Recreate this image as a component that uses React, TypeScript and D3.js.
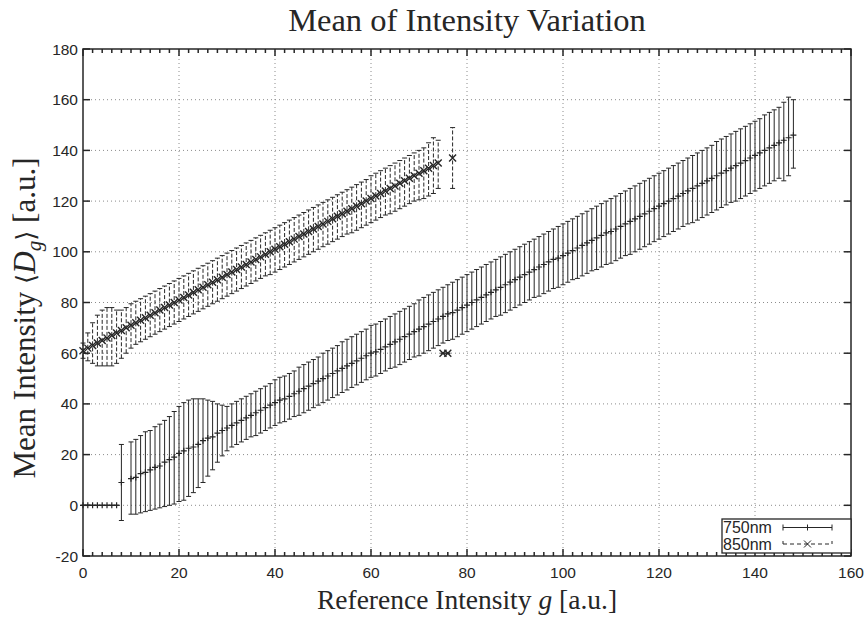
import React from 'react';
import * as d3 from 'd3';

// axis tick values
const xTickValues = [0, 20, 40, 60, 80, 100, 120, 140, 160];
const yTickValues = [-20, 0, 20, 40, 60, 80, 100, 120, 140, 160, 180];

// 750nm series (reference intensity g, mean, lower / upper error)
const g750 = [0, 1, 2, 3, 4, 5, 6, 7, 8,
  10, 11, 12, 13, 14, 15, 16, 17, 18, 19,
  20, 21, 22, 23, 24, 25, 26, 27, 28, 29,
  30, 31, 32, 33, 34, 35, 36, 37, 38, 39,
  40, 41, 42, 43, 44, 45, 46, 47, 48, 49,
  50, 51, 52, 53, 54, 55, 56, 57, 58, 59,
  60, 61, 62, 63, 64, 65, 66, 67, 68, 69,
  70, 71, 72, 73, 74, 75, 76, 77, 78, 79,
  80, 81, 82, 83, 84, 85, 86, 87, 88, 89,
  90, 91, 92, 93, 94, 95, 96, 97, 98, 99,
  100, 101, 102, 103, 104, 105, 106, 107, 108, 109,
  110, 111, 112, 113, 114, 115, 116, 117, 118, 119,
  120, 121, 122, 123, 124, 125, 126, 127, 128, 129,
  130, 131, 132, 133, 134, 135, 136, 137, 138, 139,
  140, 141, 142, 143, 144, 145, 146, 147, 148];

const mean750 = [0, 0, 0, 0, 0, 0, 0, 0, 9,
  10.5, 11, 12.5, 13, 14, 15, 15.5, 17, 18, 19,
  20.5, 21.5, 22.5, 23, 24, 25.5, 26.5, 27, 28.5, 29.5,
  30.5, 31.5, 32.5, 33.5, 34.5, 35.5, 36.5, 37.5, 38.5, 39.5,
  40.5, 41.5, 42, 43, 44, 45, 46, 47, 48, 49,
  50, 51, 52, 53, 54, 55, 56, 57, 58, 59,
  60, 60.5, 61.5, 62.5, 63.5, 64.5, 65.5, 66.5, 67.5, 68.5,
  69.5, 70.5, 71.5, 72.5, 73.5, 74.5, 75.5, 76, 77, 78,
  79, 80, 81, 82, 83, 84, 85, 86, 87, 88,
  89, 90, 91, 92, 93, 94, 95, 96, 97, 97.5,
  98.5, 99.5, 100.5, 101.5, 102.5, 103.5, 104.5, 105.5, 106.5, 107.5,
  108, 109, 110, 111, 112, 113, 114, 115, 116, 117,
  118, 119, 120, 121, 122, 123, 124, 125, 126, 127,
  128, 129, 130, 131, 132, 133, 134, 135, 136, 137,
  138, 139, 140, 141, 142, 143, 144, 145, 146];

const low750 = [0, 0, 0, 0, 0, 0, 0, 0, -6,
  -3.5, -3.5, -3, -2.5, -2, -1.5, -1, -0.5, 0, 0.5,
  1.5, 2, 3.5, 5, 7, 9, 11.5, 14, 17, 19.5,
  21.5, 23, 24, 25, 26, 27, 27.5, 28.5, 29.5, 30.5,
  31.5, 32.5, 33, 34, 35, 35.5, 36.5, 37.5, 38.5, 39.5,
  40.5, 41.5, 42.5, 43.5, 44.5, 45.5, 46.5, 47.5, 48.5, 49.5,
  50.5, 51, 52, 53, 54, 54.5, 55.5, 56.5, 57.5, 58.5,
  59, 60, 61, 62, 63, 64, 65, 65.5, 66.5, 67.5,
  68.5, 69.5, 70.5, 71.5, 72.5, 73.5, 74.5, 75, 76, 77,
  78, 79, 80, 81, 82, 82.5, 83.5, 84.5, 85.5, 86,
  87, 88, 89, 89.5, 90.5, 91.5, 92.5, 93, 94, 95,
  95.5, 96.5, 97.5, 98.5, 99, 100, 101, 102, 103, 104,
  105, 106, 107, 108, 109, 110, 111, 111.5, 112.5, 113.5,
  114.5, 115.5, 116.5, 117.5, 118.5, 119.5, 120, 121, 122, 123,
  124, 125, 126, 127, 128, 129, 128, 130, 133];

const high750 = [0, 0, 0, 0, 0, 0, 0, 0, 24,
  25, 26, 27.5, 29, 29.5, 31, 32, 33.5, 35, 37,
  39, 40.5, 41.5, 42, 42, 42, 41.5, 41, 40, 39.5,
  39, 40, 41, 42, 43, 44, 45, 46, 47, 48,
  49.5, 50.5, 51, 52, 53, 54.5, 55.5, 56.5, 57.5, 58.5,
  60, 61, 62, 63, 64.5, 65.5, 66.5, 67.5, 68.5, 69.5,
  71, 71.5, 72.5, 73.5, 74.5, 75.5, 76.5, 77.5, 78.5, 79.5,
  81, 82, 83, 84, 85, 86, 87, 88, 89, 90,
  91, 92, 93, 94, 95, 96, 97, 98, 99, 100,
  101, 102, 103, 104, 105, 106, 107, 108, 109, 110,
  111, 112, 113, 114, 115, 116, 117, 118, 119, 120,
  121, 122, 123, 124, 125, 126, 127, 128, 129, 130,
  131, 132, 133, 134, 135, 136, 137, 138, 139, 140,
  141, 142, 143.5, 144.5, 145.5, 146.5, 147.5, 148.5, 149.5, 150.5,
  151.5, 152.5, 154, 155, 156, 157, 159, 161, 160];

// 850nm series
const g850 = [0, 1, 2, 3, 4, 5, 6, 7, 8, 9,
  10, 11, 12, 13, 14, 15, 16, 17, 18, 19,
  20, 21, 22, 23, 24, 25, 26, 27, 28, 29,
  30, 31, 32, 33, 34, 35, 36, 37, 38, 39,
  40, 41, 42, 43, 44, 45, 46, 47, 48, 49,
  50, 51, 52, 53, 54, 55, 56, 57, 58, 59,
  60, 61, 62, 63, 64, 65, 66, 67, 68, 69,
  70, 71, 72, 73, 74, 75, 76, 77];

const mean850 = [61, 62, 63, 64, 65, 66, 67, 68, 69, 70,
  71, 72, 73, 74, 75, 76, 77, 78, 79, 80,
  81, 82, 83, 84, 85, 86, 87, 88, 89, 90,
  91, 92, 93, 94, 95, 96, 97, 98, 99, 100,
  101, 102, 103, 104, 105, 106, 107, 108, 109, 110,
  111, 112, 113, 114, 115, 116, 117, 118, 119, 120,
  121, 122, 123, 124, 125, 126, 127, 128, 129, 130,
  131, 132, 133, 134, 135, 60, 60, 137];

const low850 = [58, 57, 56, 55, 55, 55, 55, 56, 58, 60,
  62, 63.5, 64.5, 65.5, 66.5, 67.5, 68.5, 69.5, 70.5, 71.5,
  72.5, 73.5, 74.5, 75.5, 76.5, 77.5, 78.5, 79.5, 80.5, 81.5,
  82.5, 83.5, 84.5, 85.5, 86.5, 87.5, 88.5, 89.5, 90.5, 91,
  92, 93, 94, 95, 96, 97, 98, 99, 100, 101,
  102, 103, 104, 105, 106, 107, 107.5, 108.5, 109.5, 110.5,
  111.5, 112.5, 113.5, 114.5, 115, 116, 117, 118, 119, 120,
  120.5, 121, 122, 123, 125, 60, 60, 125];

const high850 = [64, 68, 72, 75, 77, 78, 78, 77, 77, 78,
  79.5, 80.5, 81.5, 82.5, 83.5, 84.5, 85.5, 86.5, 87.5, 88.5,
  89.5, 90.5, 91.5, 92.5, 93.5, 94.5, 95.5, 96.5, 97.5, 98.5,
  99.5, 100.5, 101.5, 102.5, 103.5, 104.5, 105.5, 106.5, 107.5, 108.5,
  109.5, 110.5, 111.5, 112.5, 113.5, 114.5, 115.5, 116.5, 117.5, 118.5,
  119.5, 120.5, 121.5, 122.5, 123.5, 124.5, 125.5, 126.5, 127.5, 128.5,
  130, 131, 132, 133, 134, 135, 136, 137, 138, 139,
  140, 141, 143, 145, 144, 60, 60, 149];

const legendLabels = ['750nm', '850nm'];

const W = 867;
const H = 620;
const ink = '#262626';
const gridColor = '#8c8c8c';
const sansFont = '"Liberation Sans", Arial, sans-serif';
const serifFont = '"Liberation Serif", "Times New Roman", serif';

const ErrorSeries = ({ x, y, gs, means, lows, highs, dashed, marker }) => {
  const cap = 2.5;
  const m = marker === 'plus' ? 3 : 3.5;
  return (
    <g stroke={ink} strokeWidth={1} fill="none">
      {gs.map((g, i) => {
        const cx = x(g);
        const yl = y(lows[i]);
        const yh = y(highs[i]);
        const ym = y(means[i]);
        return (
          <g key={i}>
            <line x1={cx} x2={cx} y1={yl} y2={yh} strokeDasharray={dashed ? '4,2' : undefined} />
            <line x1={cx - cap} x2={cx + cap} y1={yl} y2={yl} />
            <line x1={cx - cap} x2={cx + cap} y1={yh} y2={yh} />
            {marker === 'plus' ? (
              <path d={`M${cx - m},${ym}H${cx + m}M${cx},${ym - m}V${ym + m}`} strokeWidth={1.2} />
            ) : (
              <path d={`M${cx - m},${ym - m}L${cx + m},${ym + m}M${cx - m},${ym + m}L${cx + m},${ym - m}`} strokeWidth={1.4} />
            )}
          </g>
        );
      })}
    </g>
  );
};

export default function App() {
  const x = d3.scaleLinear().domain([0, 160]).range([83, 851]);
  const y = d3.scaleLinear().domain([-20, 180]).range([556, 49]);
  const [x0, x1] = x.range();
  const [y0, y1] = y.range();
  const minorX = d3.range(0, 161, 2).filter(v => v % 20 !== 0);
  const major = 7;
  const minor = 4;

  // legend geometry
  const lg = { x: 722, y: 519, w: 129, h: 34 };
  const sx0 = 783;
  const sx1 = 832;
  const sMid = (sx0 + sx1) / 2;
  const rowY = [527.5, 544];

  return (
    <svg width={W} height={H} style={{ position: 'absolute', left: 0, top: 0, background: '#fff' }}>
      <rect x={0} y={0} width={W} height={H} fill="#fff" />

      {/* title */}
      <text x={(x0 + x1) / 2} y={31} textAnchor="middle" fontFamily={serifFont} fontSize={32.5} fill={ink}>
        Mean of Intensity Variation
      </text>

      {/* grid */}
      <g stroke={gridColor} strokeWidth={1} strokeDasharray="1,3">
        {xTickValues.filter(v => v > 0 && v < 160).map(v => (
          <line key={'gx' + v} x1={x(v)} x2={x(v)} y1={y0} y2={y1} />
        ))}
        {yTickValues.filter(v => v > -20 && v < 180).map(v => (
          <line key={'gy' + v} x1={x0} x2={x1} y1={y(v)} y2={y(v)} />
        ))}
      </g>

      {/* series */}
      <ErrorSeries x={x} y={y} gs={g850} means={mean850} lows={low850} highs={high850} dashed marker="cross" />
      <ErrorSeries x={x} y={y} gs={g750} means={mean750} lows={low750} highs={high750} dashed={false} marker="plus" />

      {/* frame and ticks */}
      <g stroke={ink} strokeWidth={1.5} fill="none">
        <rect x={x0} y={y1} width={x1 - x0} height={y0 - y1} />
        {xTickValues.map(v => (
          <g key={'tx' + v}>
            <line x1={x(v)} x2={x(v)} y1={y0} y2={y0 - major} />
            <line x1={x(v)} x2={x(v)} y1={y1} y2={y1 + major} />
          </g>
        ))}
        {minorX.map(v => (
          <g key={'mx' + v}>
            <line x1={x(v)} x2={x(v)} y1={y0} y2={y0 - minor} />
            <line x1={x(v)} x2={x(v)} y1={y1} y2={y1 + minor} />
          </g>
        ))}
        {yTickValues.map(v => (
          <g key={'ty' + v}>
            <line x1={x0} x2={x0 + major} y1={y(v)} y2={y(v)} />
            <line x1={x1} x2={x1 - major} y1={y(v)} y2={y(v)} />
          </g>
        ))}
      </g>

      {/* tick labels */}
      <g fontFamily={sansFont} fontSize={15.5} fill={ink}>
        {xTickValues.map(v => (
          <text key={'lx' + v} x={x(v)} y={578} textAnchor="middle">{v}</text>
        ))}
        {yTickValues.map(v => (
          <text key={'ly' + v} x={78} y={y(v) + 5.5} textAnchor="end">{v}</text>
        ))}
      </g>

      {/* axis labels */}
      <text x={(x0 + x1) / 2} y={609} textAnchor="middle" fontFamily={serifFont} fontSize={27.5} fill={ink}>
        Reference Intensity <tspan fontStyle="italic">g</tspan> [a.u.]
      </text>
      <text transform={`translate(35,318) rotate(-90)`} textAnchor="middle" fontFamily={serifFont} fontSize={31} fill={ink}>
        Mean Intensity <tspan fontFamily='"DejaVu Serif", serif' fontSize={26}>⟨</tspan>
        <tspan fontStyle="italic">D</tspan>
        <tspan fontStyle="italic" fontSize={21} dy={6}>g</tspan>
        <tspan fontFamily='"DejaVu Serif", serif' fontSize={26} dy={-6}>⟩</tspan> [a.u.]
      </text>

      {/* legend */}
      <g>
        <rect x={lg.x} y={lg.y} width={lg.w} height={lg.h} fill="#fff" stroke={ink} strokeWidth={1.3} />
        {legendLabels.map((label, i) => (
          <text key={label} x={lg.x + 1} y={rowY[i] + 5.5} fontFamily={sansFont} fontSize={16} fill={ink}>{label}</text>
        ))}
        <g stroke={ink} strokeWidth={1} fill="none">
          <line x1={sx0} x2={sx1} y1={rowY[0]} y2={rowY[0]} />
          <line x1={sx0} x2={sx0} y1={rowY[0] - 3} y2={rowY[0] + 3} />
          <line x1={sx1} x2={sx1} y1={rowY[0] - 3} y2={rowY[0] + 3} />
          <path d={`M${sMid - 3},${rowY[0]}H${sMid + 3}M${sMid},${rowY[0] - 3}V${rowY[0] + 3}`} />
          <line x1={sx0} x2={sx1} y1={rowY[1]} y2={rowY[1]} strokeDasharray="4,3" />
          <line x1={sx0} x2={sx0} y1={rowY[1] - 3} y2={rowY[1]} />
          <line x1={sx1} x2={sx1} y1={rowY[1] - 3} y2={rowY[1]} />
          <path d={`M${sMid - 3.5},${rowY[1] - 3.5}L${sMid + 3.5},${rowY[1] + 3.5}M${sMid - 3.5},${rowY[1] + 3.5}L${sMid + 3.5},${rowY[1] - 3.5}`} />
        </g>
      </g>
    </svg>
  );
}
